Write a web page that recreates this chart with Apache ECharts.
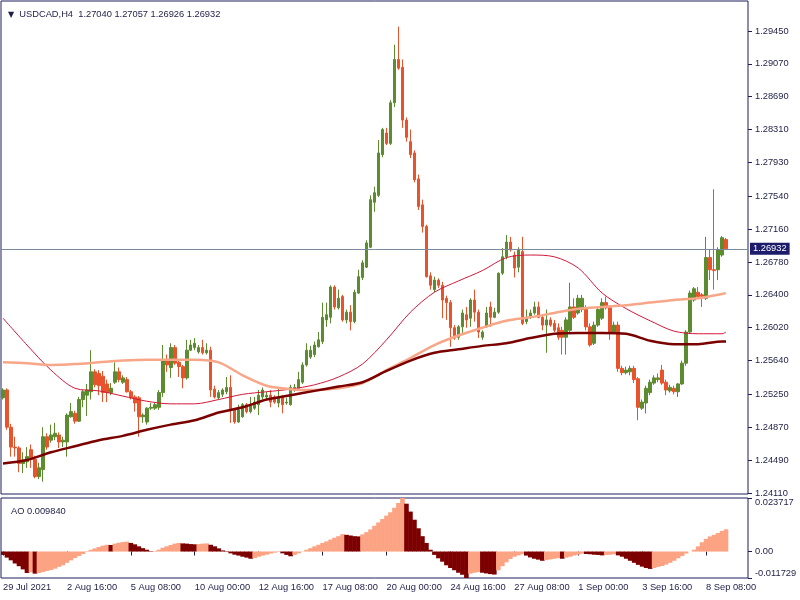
<!DOCTYPE html>
<html><head><meta charset="utf-8">
<script src="https://cdn.jsdelivr.net/npm/echarts@6/dist/echarts.min.js"></script>
<style>html,body{margin:0;padding:0;background:#fff}#c{width:800px;height:600px}</style>
</head><body><div id="c"></div>
<script>
const symbolName = 'USDCAD', periodName = 'H4', aoName = 'AO';
const opens = [1.2521,1.2530,1.2487,1.2464,1.2463,1.2445,1.2447,1.2461,1.2450,1.2430,
1.2438,1.2476,1.2472,1.2476,1.2478,1.2470,1.2470,1.2499,1.2503,1.2494,
1.2519,1.2524,1.2528,1.2551,1.2549,1.2546,1.2537,1.2527,1.2539,1.2551,
1.2539,1.2542,1.2528,1.2522,1.2521,1.2499,1.2493,1.2509,1.2509,1.2510,
1.2527,1.2565,1.2556,1.2579,1.2562,1.2557,1.2544,1.2576,1.2579,1.2574,
1.2579,1.2573,1.2576,1.2531,1.2521,1.2525,1.2528,1.2533,1.2507,1.2493,
1.2499,1.2513,1.2505,1.2509,1.2513,1.2522,1.2522,1.2524,1.2522,1.2515,
1.2522,1.2515,1.2513,1.2530,1.2532,1.2539,1.2559,1.2568,1.2571,1.2580,
1.2586,1.2611,1.2614,1.2649,1.2625,1.2638,1.2611,1.2620,1.2609,1.2642,
1.2660,1.2672,1.2695,1.2747,1.2755,1.2802,1.2827,1.2815,1.2862,1.2912,
1.2903,1.2842,1.2817,1.2804,1.2774,1.2744,1.2719,1.2662,1.2646,1.2657,
1.2651,1.2636,1.2631,1.2602,1.2591,1.2603,1.2617,1.2613,1.2634,1.2620,
1.2591,1.2603,1.2626,1.2614,1.2620,1.2665,1.2684,1.2701,1.2686,1.2672,
1.2690,1.2609,1.2614,1.2619,1.2626,1.2614,1.2605,1.2611,1.2607,1.2602,
1.2599,1.2591,1.2599,1.2626,1.2619,1.2623,1.2625,1.2603,1.2584,1.2605,
1.2613,1.2631,1.2625,1.2597,1.2605,1.2555,1.2550,1.2551,1.2555,1.2543,
1.2509,1.2515,1.2527,1.2538,1.2542,1.2553,1.2539,1.2529,1.2532,1.2528,
1.2537,1.2561,1.2597,1.2634,1.2643,1.2640,1.2636,1.2683,1.2669,1.2669,
1.2686,1.27040];
const closes = [1.2530,1.2487,1.2464,1.2463,1.2445,1.2449,1.2453,1.2450,1.2430,1.2440,
1.2476,1.2464,1.2478,1.2480,1.2470,1.2472,1.2501,1.2505,1.2494,1.2519,
1.2528,1.2530,1.2551,1.2536,1.2535,1.2527,1.2527,1.2532,1.2551,1.2542,
1.2544,1.2528,1.2521,1.2515,1.2499,1.2501,1.2509,1.2510,1.2513,1.2527,
1.2565,1.2559,1.2579,1.2561,1.2557,1.2544,1.2576,1.2582,1.2584,1.2579,
1.2573,1.2576,1.2530,1.2522,1.2527,1.2530,1.2533,1.2507,1.2493,1.2507,
1.2513,1.2505,1.2513,1.2516,1.2524,1.2530,1.2524,1.2516,1.2516,1.2522,
1.2513,1.2516,1.2533,1.2533,1.2542,1.2559,1.2576,1.2576,1.2582,1.2588,
1.2614,1.2617,1.2649,1.2626,1.2636,1.2611,1.2620,1.2609,1.2643,1.2661,
1.2677,1.2700,1.2750,1.2758,1.2804,1.2831,1.2815,1.2862,1.2912,1.2902,
1.2842,1.2822,1.2802,1.2773,1.2742,1.2719,1.2661,1.2651,1.2657,1.2651,
1.2634,1.2631,1.2602,1.2590,1.2603,1.2619,1.2611,1.2634,1.2620,1.2597,
1.2597,1.2619,1.2614,1.2620,1.2665,1.2684,1.2701,1.2692,1.2671,1.2692,
1.2607,1.2614,1.2619,1.2626,1.2614,1.2605,1.2611,1.2605,1.2599,1.2591,
1.2591,1.2611,1.2626,1.2614,1.2636,1.2636,1.2603,1.2582,1.2605,1.2623,
1.2631,1.2625,1.2597,1.2605,1.2555,1.2550,1.2553,1.2555,1.2542,1.2510,
1.2516,1.2532,1.2539,1.2544,1.2544,1.2538,1.2530,1.2533,1.2528,1.2537,
1.2561,1.2597,1.2642,1.2647,1.2638,1.2638,1.2683,1.2669,1.2668,1.2692,
1.2706,1.26932];
const lows = [1.2519,1.2484,1.2453,1.2453,1.2435,1.2434,1.2440,1.2440,1.2428,1.2427,
1.2424,1.2461,1.2469,1.2472,1.2463,1.2464,1.2453,1.2498,1.2491,1.2493,
1.2510,1.2500,1.2519,1.2533,1.2524,1.2516,1.2516,1.2524,1.2537,1.2539,
1.2537,1.2527,1.2519,1.2505,1.2476,1.2492,1.2490,1.2507,1.2507,1.2507,
1.2522,1.2551,1.2544,1.2559,1.2545,1.2532,1.2542,1.2575,1.2576,1.2572,
1.2571,1.2571,1.2522,1.2520,1.2519,1.2522,1.2525,1.2492,1.2491,1.2492,
1.2498,1.2503,1.2503,1.2507,1.2501,1.2519,1.2519,1.2510,1.2514,1.2510,
1.2503,1.2513,1.2512,1.2528,1.2530,1.2537,1.2557,1.2566,1.2568,1.2579,
1.2583,1.2603,1.2607,1.2623,1.2623,1.2609,1.2607,1.2599,1.2607,1.2641,
1.2657,1.2671,1.2694,1.2736,1.2753,1.2799,1.2813,1.2813,1.2857,1.2900,
1.2833,1.2817,1.2798,1.2770,1.2738,1.2712,1.2660,1.2646,1.2643,1.2648,
1.2613,1.2611,1.2580,1.2588,1.2588,1.2594,1.2602,1.2603,1.2609,1.2590,
1.2588,1.2602,1.2603,1.2613,1.2618,1.2663,1.2681,1.2690,1.2660,1.2666,
1.2605,1.2606,1.2612,1.2617,1.2613,1.2599,1.2573,1.2603,1.2597,1.2588,
1.2571,1.2571,1.2597,1.2612,1.2617,1.2620,1.2599,1.2580,1.2582,1.2603,
1.2611,1.2623,1.2588,1.2595,1.2551,1.2547,1.2548,1.2547,1.2538,1.2495,
1.2507,1.2503,1.2524,1.2536,1.2539,1.2536,1.2524,1.2527,1.2525,1.2522,
1.2536,1.2558,1.2595,1.2632,1.2636,1.2626,1.2634,1.2657,1.2646,1.2657,
1.2684,1.26926];
const highs = [1.2532,1.2532,1.2491,1.2476,1.2465,1.2458,1.2464,1.2467,1.2454,1.2446,
1.2487,1.2480,1.2490,1.2492,1.2481,1.2476,1.2503,1.2515,1.2506,1.2522,
1.2530,1.2537,1.2576,1.2554,1.2553,1.2552,1.2542,1.2538,1.2562,1.2556,
1.2547,1.2545,1.2530,1.2524,1.2523,1.2503,1.2510,1.2515,1.2515,1.2530,
1.2582,1.2571,1.2584,1.2582,1.2565,1.2559,1.2588,1.2588,1.2590,1.2582,
1.2588,1.2584,1.2580,1.2535,1.2530,1.2532,1.2545,1.2547,1.2509,1.2513,
1.2515,1.2515,1.2522,1.2522,1.2530,1.2533,1.2528,1.2530,1.2524,1.2532,
1.2524,1.2521,1.2536,1.2537,1.2551,1.2562,1.2584,1.2581,1.2586,1.2597,
1.2631,1.2631,1.2651,1.2651,1.2646,1.2640,1.2623,1.2628,1.2646,1.2669,
1.2680,1.2703,1.2755,1.2765,1.2819,1.2833,1.2833,1.2865,1.2929,1.2950,
1.2912,1.2845,1.2831,1.2807,1.2779,1.2750,1.2721,1.2666,1.2661,1.2659,
1.2655,1.2639,1.2634,1.2605,1.2605,1.2623,1.2626,1.2636,1.2646,1.2623,
1.2599,1.2626,1.2632,1.2625,1.2666,1.2694,1.2709,1.2707,1.2690,1.2695,
1.2707,1.2623,1.2623,1.2632,1.2632,1.2617,1.2623,1.2614,1.2611,1.2607,
1.2603,1.2614,1.2654,1.2636,1.2640,1.2640,1.2628,1.2607,1.2609,1.2626,
1.2636,1.2638,1.2628,1.2609,1.2609,1.2558,1.2557,1.2558,1.2558,1.2545,
1.2519,1.2535,1.2542,1.2547,1.2549,1.2559,1.2542,1.2536,1.2535,1.2538,
1.2564,1.2599,1.2645,1.2649,1.2649,1.2642,1.2707,1.2692,1.2762,1.2695,
1.2708,1.27057];
const aoValues = [-0.0015,-0.0027,-0.0039,-0.0053,-0.0065,-0.0079,-0.0095,-0.0092,-0.0098,-0.0095,
-0.0091,-0.0086,-0.0082,-0.0076,-0.0068,-0.0061,-0.0050,-0.0039,-0.0029,-0.0020,
-0.0011,-0.0002,0.0008,0.0014,0.0020,0.0026,0.0030,0.0029,0.0035,0.0039,
0.0042,0.0044,0.0038,0.0032,0.0023,0.0015,0.0008,-0.0002,0.0002,0.0008,
0.0017,0.0023,0.0029,0.0035,0.0038,0.0036,0.0035,0.0033,0.0032,0.0033,
0.0035,0.0036,0.0030,0.0023,0.0014,0.0005,-0.0002,-0.0008,-0.0014,-0.0018,
-0.0023,-0.0027,-0.0032,-0.0029,-0.0023,-0.0018,-0.0014,-0.0009,-0.0005,-0.0002,
-0.0008,-0.0015,-0.0021,-0.0015,-0.0008,0.0001,0.0008,0.0015,0.0023,0.0030,
0.0038,0.0045,0.0053,0.0061,0.0068,0.0077,0.0074,0.0071,0.0068,0.0067,
0.0076,0.0086,0.0098,0.0114,0.0129,0.0144,0.0159,0.0174,0.0194,0.0215,
0.023717,0.0212,0.0177,0.0141,0.0103,0.0068,0.0038,0.0008,-0.0015,-0.0030,
-0.0045,-0.0061,-0.0073,-0.0083,-0.0094,-0.0103,-0.011729,-0.0098,-0.0094,-0.0091,
-0.0094,-0.0097,-0.0100,-0.0102,-0.0083,-0.0065,-0.0048,-0.0033,-0.0023,-0.0017,
-0.0012,-0.0018,-0.0026,-0.0032,-0.0036,-0.0041,-0.0038,-0.0035,-0.0032,-0.0029,
-0.0032,-0.0027,-0.0023,-0.0018,-0.0014,-0.0009,-0.0011,-0.0012,-0.0014,-0.0015,
-0.0017,-0.0015,-0.0014,-0.0012,-0.0017,-0.0023,-0.0032,-0.0041,-0.0050,-0.0059,
-0.0067,-0.0073,-0.0077,-0.0073,-0.0068,-0.0064,-0.0058,-0.0050,-0.0041,-0.0030,
-0.0020,-0.0009,0.0000,0.0008,0.0023,0.0041,0.0056,0.0067,0.0074,0.0082,
0.0091,0.009840];
const maFast = [[0,1.2613],[6,1.2582],[12,1.2553],[18,1.2532],[24,1.2529],[30,1.2523],[36,1.2517],[42,1.2514],[48,1.2514],[54,1.2519],[60,1.2525],[66,1.2528],[72,1.2531],[78,1.2536],[84,1.2545],[90,1.2560],[96,1.2588],[102,1.2620],[108,1.2643],[114,1.2656],[120,1.2668],[126,1.2683],[132,1.2686],[138,1.2684],[144,1.2671],[150,1.2642],[156,1.2624],[162,1.2610],[168,1.2598],[174,1.2595],[180,1.2595],[181,1.2597]];
const maMid = [[0,1.2562],[6,1.2561],[12,1.2559],[18,1.2560],[24,1.2562],[30,1.2564],[36,1.2565],[42,1.2565],[48,1.2565],[54,1.2562],[60,1.2547],[66,1.2535],[72,1.2531],[78,1.2530],[84,1.2532],[90,1.2538],[96,1.2553],[102,1.2567],[108,1.2582],[114,1.2593],[120,1.2602],[126,1.2610],[132,1.2614],[138,1.2619],[144,1.2624],[150,1.2626],[156,1.2628],[162,1.2631],[168,1.2634],[174,1.2636],[180,1.2641],[181,1.2642]];
const maSlow = [[0,1.2445],[6,1.2449],[12,1.2458],[18,1.2465],[24,1.2472],[30,1.2477],[36,1.2484],[42,1.2490],[48,1.2495],[54,1.2504],[60,1.2510],[66,1.2519],[72,1.2524],[78,1.2529],[84,1.2534],[90,1.2539],[96,1.2552],[102,1.2564],[108,1.2573],[114,1.2577],[120,1.2581],[126,1.2584],[132,1.2590],[138,1.2595],[144,1.2596],[150,1.2596],[156,1.2595],[162,1.2587],[168,1.2583],[174,1.2583],[180,1.2586],[181,1.2586]];
const priceTicks = [1.2411,1.2449,1.2487,1.2525,1.2564,1.2602,1.2640,1.2678,1.2716,1.2754,1.2793,1.2831,1.2869,1.2907,1.2945];
const aoTicks = [-0.011729, 0, 0.023717];
const timeLabels = ['29 Jul 2021','2 Aug 16:00','5 Aug 08:00','10 Aug 00:00','12 Aug 16:00','17 Aug 08:00','20 Aug 00:00','24 Aug 16:00','27 Aug 08:00','1 Sep 00:00','3 Sep 16:00','8 Sep 08:00'];
const labelEvery = 16;
const slotCount = 187;

const FONT = "'Liberation Sans',Arial,sans-serif";
const FS = 9.3;
const NAVY = '#1c1c5c', TXT = '#1e1e46';
const BULL = '#5d8b2f', BEAR = '#e8532c';
const AO_UP = '#fba382', AO_DN = '#7d0000';

const slots = Array.from({length: slotCount}, (_, i) => String(i));
const candles = opens.map((o, i) => [o, closes[i], lows[i], highs[i]]);
const n = closes.length - 1;
const lastClose = closes[n];
const aoBars = aoValues.map((v, i) => ({
  value: v,
  itemStyle: { color: (i > 0 && v > aoValues[i - 1]) ? AO_UP : AO_DN }
}));
const isLabelIdx = (idx) => idx % labelEvery === 0 && idx / labelEvery < timeLabels.length;

const chart = echarts.init(document.getElementById('c'), null, {renderer: 'canvas'});
chart.setOption({
  animation: false,
  backgroundColor: '#ffffff',
  textStyle: { fontFamily: FONT },
  title: [
    { text: '{t|▼}  ' + symbolName + ',' + periodName + '  ' + [opens[n], highs[n], lows[n], closes[n]].map(v => v.toFixed(5)).join(' '),
      left: 3, top: 5,
      textStyle: { fontSize: FS, fontWeight: 'normal', color: TXT, fontFamily: FONT,
        rich: { t: { fontFamily: 'DejaVu Sans', fontSize: 8, color: TXT, verticalAlign: 'middle' } } } },
    { text: aoName + ' ' + aoValues[n].toFixed(6), left: 6, top: 502,
      textStyle: { fontSize: FS, fontWeight: 'normal', color: TXT, fontFamily: FONT } }
  ],
  grid: [
    { left: 1, top: 1, width: 747, height: 493, show: true, borderColor: NAVY, borderWidth: 1, backgroundColor: 'transparent' },
    { left: 1, top: 498, width: 747, height: 80, show: true, borderColor: NAVY, borderWidth: 1, backgroundColor: 'transparent' }
  ],
  xAxis: [
    { type: 'category', gridIndex: 0, data: slots, boundaryGap: true,
      axisLine: {show: false}, axisTick: {show: false}, axisLabel: {show: false}, splitLine: {show: false} },
    { type: 'category', gridIndex: 1, data: slots, boundaryGap: true,
      axisLine: {show: false},
      axisTick: { show: true, alignWithLabel: true, interval: isLabelIdx, length: 4, lineStyle: {color: NAVY} },
      axisLabel: { show: true, interval: isLabelIdx, align: 'left', margin: 5, fontSize: FS, color: TXT, fontFamily: FONT,
        formatter: (v, idx) => timeLabels[Math.round(idx / labelEvery)] || '' },
      splitLine: {show: false} }
  ],
  yAxis: [
    { type: 'value', gridIndex: 0, position: 'right', min: 1.24098, max: 1.29796,
      axisLine: {show: false}, splitLine: {show: false},
      axisTick: { show: true, length: 4, customValues: priceTicks, lineStyle: {color: NAVY} },
      axisLabel: { customValues: priceTicks, formatter: v => v.toFixed(5), margin: 7, fontSize: FS, color: TXT, fontFamily: FONT } },
    { type: 'value', gridIndex: 1, position: 'right', min: aoTicks[0], max: aoTicks[2],
      axisLine: {show: false}, splitLine: {show: false},
      axisTick: { show: true, length: 4, customValues: aoTicks, lineStyle: {color: NAVY} },
      axisLabel: { customValues: aoTicks, formatter: v => (v === 0 ? '0.00' : v.toFixed(6)), margin: 7, fontSize: FS, color: TXT, fontFamily: FONT,
        verticalAlignMaxLabel: 'top', verticalAlignMinLabel: 'bottom' } }
  ],
  series: [
    { type: 'candlestick', xAxisIndex: 0, yAxisIndex: 0, data: candles, barWidth: 3,
      itemStyle: { color: BULL, color0: BEAR, borderColor: BULL, borderColor0: BEAR, borderWidth: 1 },
      z: 2 },
    { type: 'line', xAxisIndex: 0, yAxisIndex: 0, data: maFast, showSymbol: false, smooth: 0.3,
      lineStyle: { color: '#d2173a', width: 1 }, z: 3,
      markLine: { silent: true, symbol: ['none', 'none'], animation: false, precision: 5,
        lineStyle: { color: '#7b8b9b', width: 1, type: 'solid' },
        label: { show: true, position: 'end', distance: 2, formatter: () => lastClose.toFixed(5),
          backgroundColor: '#1c1c6a', color: '#ffffff', padding: [2, 3, 1, 3], fontSize: FS, fontFamily: FONT },
        data: [{ yAxis: lastClose }] } },
    { type: 'line', xAxisIndex: 0, yAxisIndex: 0, data: maMid, showSymbol: false, smooth: 0.3,
      lineStyle: { color: '#f7a688', width: 2.5 }, z: 3 },
    { type: 'line', xAxisIndex: 0, yAxisIndex: 0, data: maSlow, showSymbol: false, smooth: 0.3,
      lineStyle: { color: '#7a0000', width: 2.5 }, z: 3 },
    { type: 'bar', xAxisIndex: 1, yAxisIndex: 1, data: aoBars, barWidth: 4.6 }
  ]
});
</script>
</body></html>
